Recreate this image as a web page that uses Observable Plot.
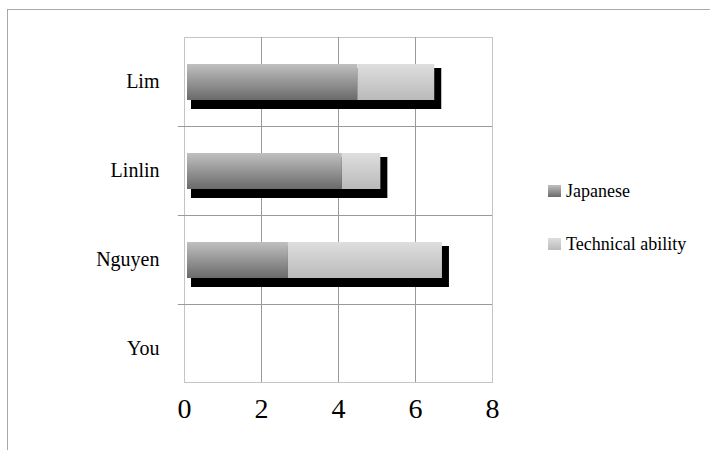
<!DOCTYPE html>
<html>
<head>
<meta charset="utf-8">
<script src="https://cdn.jsdelivr.net/npm/d3@7"></script>
<script src="https://cdn.jsdelivr.net/npm/@observablehq/plot@0.6"></script>
<style>
  html, body { margin: 0; padding: 0; background: #fff; font-family: "Liberation Serif", serif; }
  #wrap { position: relative; width: 710px; height: 450px; overflow: hidden; }
  #border { position: absolute; left: 7px; top: 9px; width: 720px; height: 460px;
            border-left: 1px solid #a8a8a8; border-top: 1px solid #a8a8a8; }
  #wrap svg { position: absolute; left: 0; top: 0; }
</style>
</head>
<body>
<div id="wrap"><div id="border"></div></div>
<script>
const categories = ["Lim", "Linlin", "Nguyen", "You"];
const japanese = [4.5, 4.1, 2.7, 0];
const technical = [2.0, 1.0, 4.0, 0];
const seriesNames = ["Japanese", "Technical ability"];
const xTicks = [0, 2, 4, 6, 8];

const rows = categories.map((c, i) => ({
  name: c, jp: japanese[i], tech: technical[i], total: japanese[i] + technical[i]
}));
const shown = rows.filter(d => d.total > 0);

const chart = Plot.plot({
  width: 710,
  height: 450,
  marginLeft: 184,
  marginRight: 218,
  marginTop: 37,
  marginBottom: 68,
  style: { fontFamily: "'Liberation Serif', serif", color: "#000", background: "transparent" },
  x: { domain: [0, 8], label: null },
  y: { domain: categories, range: [37, 393], padding: 0, label: null },
  marks: [
    Plot.frame({ stroke: "#c4c4c4" }),
    Plot.ruleX([2, 4, 6], { stroke: "#9a9a9a" }),
    Plot.ruleY(categories.slice(1), { y: d => d, x1: () => -0.16, x2: () => 8, dy: -44.5, stroke: "#9a9a9a" }),
    Plot.barX(shown, { y: "name", x1: () => 0, x2: "total", fill: "#000",
      insetLeft: 3, insetRight: -3, insetTop: 27, insetBottom: 21, dx: 4, dy: 4 }),
    Plot.barX(shown, { y: "name", x1: () => 0, x2: "jp", fill: "url(#gradJ)",
      insetLeft: 3, insetTop: 27, insetBottom: 26 }),
    Plot.barX(shown, { y: "name", x1: "jp", x2: "total", fill: "url(#gradT)",
      insetTop: 27, insetBottom: 26 }),
    Plot.axisX({ ticks: xTicks, tickSize: 0, tickPadding: 16, fontSize: 28, tickFormat: d => String(d), label: null }),
    Plot.axisY({ tickSize: 0, tickPadding: 25, fontSize: 20, label: null })
  ]
});

document.getElementById("wrap").appendChild(chart);

const svg = d3.select(chart);
const defs = svg.insert("defs", ":first-child");
function grad(id, top, bottom) {
  const g = defs.append("linearGradient").attr("id", id)
    .attr("x1", 0).attr("y1", 0).attr("x2", 0).attr("y2", 1);
  g.append("stop").attr("offset", "0%").attr("stop-color", top);
  g.append("stop").attr("offset", "100%").attr("stop-color", bottom);
}
grad("gradJ", "#c0c0c0", "#6a6a6a");
grad("gradT", "#dedede", "#bababa");

const legend = svg.append("g")
  .attr("font-size", 18)
  .attr("text-anchor", "start");
const legendY = [191, 244];
seriesNames.forEach((name, i) => {
  legend.append("rect").attr("x", 548).attr("y", legendY[i] - 6).attr("width", 13).attr("height", 12)
    .attr("fill", i === 0 ? "url(#gradJ)" : "url(#gradT)");
  legend.append("text").attr("x", 566).attr("y", legendY[i]).attr("dy", "0.32em")
    .attr("text-anchor", "start").attr("fill", "#000").text(name);
});
svg.selectAll("text").attr("font-family", "Liberation Serif").style("font-family", "'Liberation Serif'");
// force style/layout so the installed serif face is resolved before the snapshot
svg.selectAll("text").each(function () { getComputedStyle(this).fontFamily; this.getBBox(); });
if (document.fonts && document.fonts.load) document.fonts.load("18px 'Liberation Serif'");
</script>
</body>
</html>
